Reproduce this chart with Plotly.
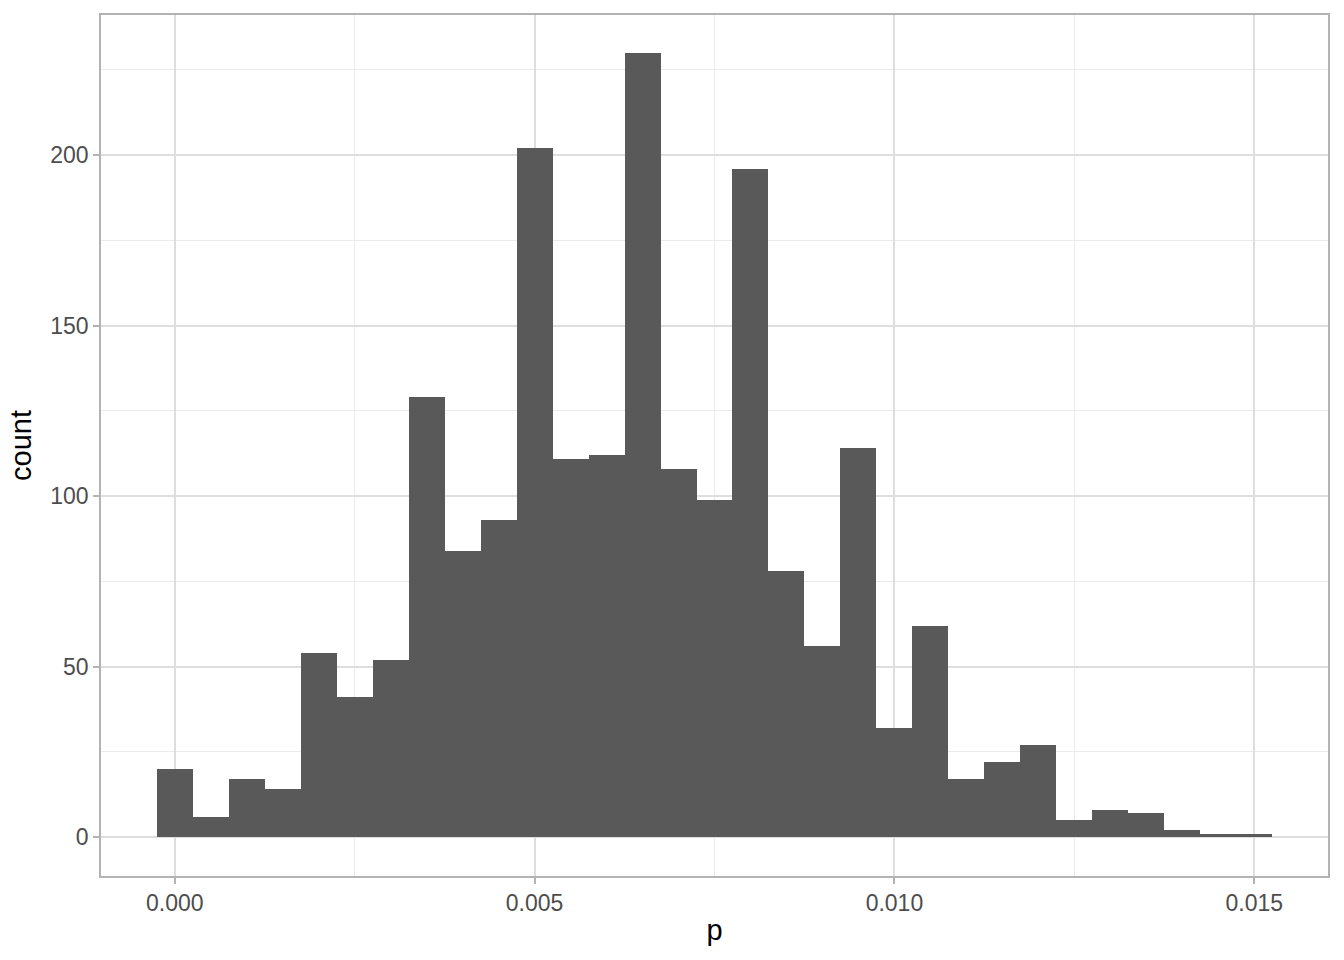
import plotly.graph_objects as go

bin_centers = [0.0000, 0.0005, 0.0010, 0.0015, 0.0020, 0.0025, 0.0030, 0.0035,
               0.0040, 0.0045, 0.0050, 0.0055, 0.0060, 0.0065, 0.0070, 0.0075,
               0.0080, 0.0085, 0.0090, 0.0095, 0.0100, 0.0105, 0.0110, 0.0115,
               0.0120, 0.0125, 0.0130, 0.0135, 0.0140, 0.0145, 0.0150]
counts = [20, 6, 17, 14, 54, 41, 52, 129, 84, 93, 202, 111, 112, 230, 108, 99,
          196, 78, 56, 114, 32, 62, 17, 22, 27, 5, 8, 7, 2, 1, 1]
bin_width = 0.0005
x_ticks = [0.000, 0.005, 0.010, 0.015]
x_labels = ["0.000", "0.005", "0.010", "0.015"]
y_ticks = [0, 50, 100, 150, 200]

fig = go.Figure(go.Bar(
    x=bin_centers, y=counts, width=[bin_width] * len(counts),
    marker=dict(color="#595959", line=dict(width=0)),
))

font_family = "Liberation Sans, Arial, sans-serif"
fig.update_layout(
    width=1344, height=960,
    margin=dict(l=101, r=16, t=15, b=84),
    paper_bgcolor="white", plot_bgcolor="white",
    showlegend=False, bargap=0,
    font=dict(family=font_family),
)
fig.update_xaxes(
    range=[-0.001025, 0.016025],
    tickvals=x_ticks, ticktext=x_labels,
    ticks="outside", ticklen=6, tickwidth=1.5, tickcolor="#B3B3B3",
    tickfont=dict(size=23, color="#4D4D4D"),
    showgrid=True, gridcolor="#DEDEDE", gridwidth=1.5,
    minor=dict(dtick=0.0025, tick0=0, showgrid=True, gridcolor="#EBEBEB", gridwidth=1, ticks=""),
    showline=True, linecolor="#B3B3B3", linewidth=1.5, mirror=True,
    zeroline=False, automargin=False,
    title=dict(text="p", font=dict(size=29, color="black"), standoff=4),
)
fig.update_yaxes(
    range=[-11.4, 241.1],
    tickvals=y_ticks,
    ticks="outside", ticklen=6, tickwidth=1.5, tickcolor="#B3B3B3",
    tickfont=dict(size=23, color="#4D4D4D"),
    showgrid=True, gridcolor="#DEDEDE", gridwidth=1.5,
    minor=dict(dtick=25, tick0=0, showgrid=True, gridcolor="#EBEBEB", gridwidth=1, ticks=""),
    showline=True, linecolor="#B3B3B3", linewidth=1.5, mirror=True,
    zeroline=False, automargin=False,
    title=dict(text="count", font=dict(size=29, color="black"), standoff=10),
)

fig.write_html("out.html", config={"displayModeBar": False},
               post_script="document.body.style.margin='0';document.body.style.overflow='hidden';")
